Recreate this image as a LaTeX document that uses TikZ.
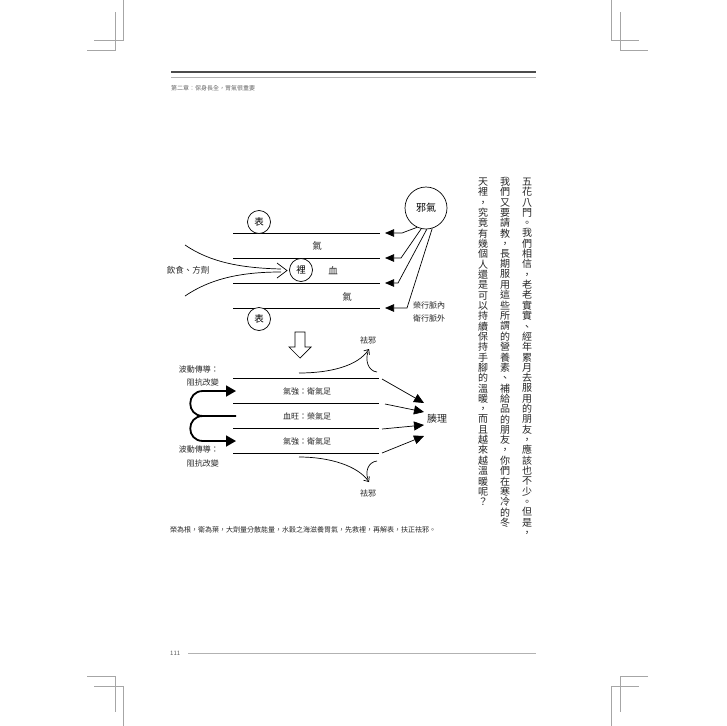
\documentclass[tikz,border=0pt]{standalone}
\usepackage{fontspec}
\newfontfamily\cjk{Noto Sans CJK TC}
\usetikzlibrary{arrows.meta}
\newcommand\vcolumn[1]{\vbox{\offinterlineskip\vcolstep#1\relax}}
\def\vcolstep#1{\ifx\relax#1\else\hbox to 11pt{\hss\vrule height 8.2pt depth 2pt width 0pt\relax#1\hss}\expandafter\vcolstep\fi}
\tikzset{
  lbl/.style={font=\cjk\fontsize{8.5}{9}\selectfont, inner sep=0, text=black!85},
  small/.style={font=\cjk\fontsize{8}{8}\selectfont, inner sep=0, text=black!85},
  ring/.style={circle, draw, line width=0.7, fill=white, minimum size=23, inner sep=0, font=\cjk\fontsize{9.5}{9.5}\selectfont},
  thinline/.style={line width=0.7},
  tri/.style={line width=0.7, -{Triangle[length=9pt,width=7.5pt]}},
  bigtri/.style={line width=0.7, -{Triangle[length=10pt,width=9pt]}},
  thickarr/.style={line width=1.8, -{Triangle[length=10pt,width=11pt]}},
  barb/.style={line width=0.7, -{Straight Barb[length=4pt,width=7pt]}},
  crop/.style={line width=0.5, draw=gray!70},
}
\begin{document}
\begin{tikzpicture}[x=1pt,y=-1pt]
\useasboundingbox[fill=white] (0,0) rectangle (726,726);
% crop marks
\draw[crop] (123,0) -- (123,40) -- (94,40);
\draw[crop] (115,12) -- (115,50) -- (87,50);
\draw[crop] (611,0) -- (611,40) -- (639,40);
\draw[crop] (620,12) -- (620,50) -- (648,50);
\draw[crop] (87,676) -- (115,676) -- (115,712);
\draw[crop] (94,686) -- (123,686) -- (123,726);
\draw[crop] (648,676) -- (620,676) -- (620,712);
\draw[crop] (639,686) -- (611,686) -- (611,726);
% header
\draw[line width=1.5, draw=gray!60!black] (171,72) -- (536,72);
\draw[line width=0.6, draw=gray!60] (171,77) -- (536,77);
\node[anchor=west, inner sep=0, font=\cjk\fontsize{6}{6}\selectfont, text=gray!80!black] (hdr) at (171,88) {第二章：保身長全，胃氣很重要};
% footer
\node[anchor=west, inner sep=0, font=\cjk\fontsize{6}{6}\selectfont, text=gray!70!black] (pg) at (170,653) {111};
\draw[line width=0.6, draw=gray!60] (188,653) -- (536,653);
% vertical text
\begin{scope}[every node/.style={anchor=north, inner sep=0, font=\cjk\fontsize{10}{10}\selectfont, text=black!85}]
\node (col1) at (527,177) {\vcolumn{五花八門。我們相信，老老實實、經年累月去服用的朋友，應該也不少。但是，}};
\node (col2) at (505,177) {\vcolumn{我們又要請教，長期服用這些所謂的營養素、補給品的朋友，你們在寒冷的冬}};
\node (col3) at (483,177) {\vcolumn{天裡，究竟有幾個人還是可以持續保持手腳的溫暖，而且越來越溫暖呢？}};
\end{scope}
% ===== top diagram =====
\foreach \yy in {233,258,283,308} \draw[thinline] (233,\yy) -- (380,\yy);
\node[ring, minimum size=42, font=\cjk\fontsize{10}{10}\selectfont] (xq) at (426,208) {邪氣};
\node[ring] (b1) at (259,222) {表};
\node[ring] (b2) at (259,319) {表};
\node[ring] (li) at (301,270) {裡};
\node[lbl, font=\cjk\fontsize{9.5}{9.5}\selectfont] (q1) at (317,246) {氣};
\node[lbl, font=\cjk\fontsize{9.5}{9.5}\selectfont] (xue) at (333,271) {血};
\node[lbl, font=\cjk\fontsize{9.5}{9.5}\selectfont] (q2) at (347,297) {氣};
\node[lbl] (yin) at (188,270) {飲食、方劑};
\coordinate (k1) at (402,233); \coordinate (e1) at (385,233);
\coordinate (k2) at (401,258); \coordinate (e2) at (385,258);
\coordinate (k3) at (398,283); \coordinate (e3) at (385,283);
\coordinate (k4) at (407,308); \coordinate (e4) at (385,308);
\draw[tri] (xq.245) -- (k1) -- (e1);
\draw[tri] (xq.257) -- (k2) -- (e2);
\draw[tri] (xq.272) -- (k3) -- (e3);
\draw[tri] (xq.287) -- (k4) -- (e4);
\node[small] (rong) at (429,305) {榮行脈內};
\node[small] (wei) at (429,318) {衛行脈外};
% funnel
\draw[thinline] (185,245) .. controls (210,262) and (240,268) .. (281,269);
\draw[thinline] (185,296) .. controls (210,279) and (240,272) .. (281,272);
\draw[thinline] (277,263) -- (287,270.5) -- (277,278);
% hollow arrow
\draw[line width=0.7, fill=white] (295,332) -- (305,332) -- (305,347) -- (311,347) -- (300,358) -- (289,347) -- (295,347) -- cycle;
% ===== bottom diagram =====
\foreach \yy in {378,403,428,453} \draw[thinline] (233,\yy) -- (379,\yy);
\node[small] (s1) at (307,391) {氣強：衛氣足};
\node[small] (s2) at (307,416) {血旺：榮氣足};
\node[small] (s3) at (307,441) {氣強：衛氣足};
\node[small, anchor=east] (bd1) at (219,369) {波動傳導：};
\node[small, anchor=east] (zk1) at (219,382) {阻抗改變};
\node[small, anchor=east] (bd2) at (219,449) {波動傳導：};
\node[small, anchor=east] (zk2) at (219,463) {阻抗改變};
% thick bracket arrows
\coordinate (m0) at (236,416);
\coordinate (m1) at (203,416);
\coordinate (t1) at (236,391);
\coordinate (t2) at (236,441);
\draw[thickarr] (m0) -- (m1) .. controls (186,416) and (186,391) .. (203,391) -- (t1);
\draw[thickarr] (m1) .. controls (186,416) and (186,441) .. (203,441) -- (t2);
% qu xie
\node[small] (qx1) at (368,340) {祛邪};
\node[small] (qx2) at (368,493) {祛邪};
\coordinate (tp1) at (369,349);
\coordinate (tp2) at (369,482);
\draw[barb] (299,373) .. controls (330,373) and (358,366) .. (tp1);
\draw[thinline] (377,372) .. controls (368,371) and (365,360) .. (368,352);
\draw[barb] (299,457) .. controls (330,457) and (358,466) .. (tp2);
\draw[thinline] (377,461) .. controls (368,462) and (365,472) .. (368,479);
% cou li
\node[lbl, font=\cjk\fontsize{10}{10}\selectfont] (cl) at (437,419) {腠理};
\draw[bigtri] (382,379) -- (424,403);
\draw[bigtri] (385,404) -- (424,412);
\draw[bigtri] (382,429) -- (424,425);
\draw[bigtri] (382,453) -- (424,436);
% caption
\node[anchor=west, inner sep=0, font=\cjk\fontsize{7}{7}\selectfont, text=black!85] (cap) at (170,530) {榮為根，衛為葉，大劑量分散能量，水穀之海滋養胃氣，先救裡，再解表，扶正祛邪。};
\end{tikzpicture}
\end{document}
